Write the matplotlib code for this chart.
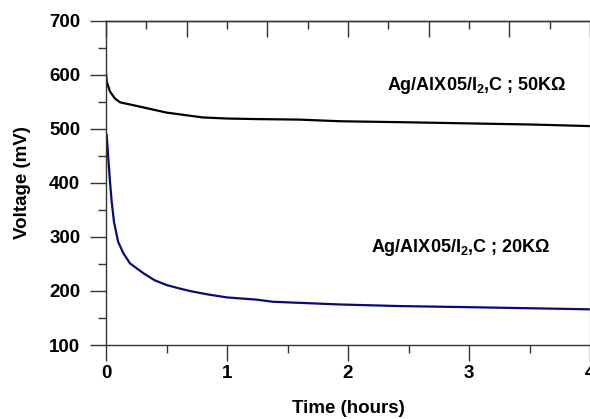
import matplotlib
matplotlib.use("Agg")
import matplotlib.pyplot as plt
from matplotlib.ticker import MultipleLocator

# Data
t_50k = [0.0, 0.006, 0.033, 0.074, 0.116, 0.3, 0.5, 0.8, 1.0, 1.24, 1.6, 1.93, 2.5, 3.0, 3.5, 4.0]
v_50k = [603, 587, 569, 556, 549, 540, 530, 521, 519, 518, 517, 514, 512, 510, 508, 505]

t_20k = [0.006, 0.019, 0.033, 0.047, 0.066, 0.10, 0.143, 0.198, 0.308, 0.4, 0.5, 0.6, 0.69,
         0.83, 1.0, 1.24, 1.38, 1.6, 1.93, 2.43, 3.0, 3.5, 4.0]
v_20k = [488, 445, 402, 365, 328, 291, 270, 251, 233, 220, 211, 205, 200,
         194, 188, 184, 180, 178, 175, 172, 170, 168, 166]

label_50k = r"Ag/AlX05/I$_\mathbf{2}$,C ; 50K$\Omega$"
label_20k = r"Ag/AlX05/I$_\mathbf{2}$,C ; 20K$\Omega$"

plt.rcParams['font.family'] = ['Liberation Sans', 'DejaVu Sans']
plt.rcParams['font.weight'] = 'bold'
plt.rcParams['mathtext.fontset'] = 'custom'
plt.rcParams['mathtext.rm'] = 'Liberation Sans:bold'
plt.rcParams['mathtext.bf'] = 'Liberation Sans:bold'
plt.rcParams['mathtext.it'] = 'Liberation Sans:bold'

fig = plt.figure(figsize=(5.9, 4.19), dpi=100)
ax = fig.add_axes([106/590, 1-345/419, 484/590, (345-20.7)/419])

ax.plot(t_50k, v_50k, color='black', lw=1.6)
ax.plot(t_20k, v_20k, color='#0a0a78', lw=1.6)

ax.set_xlim(0, 4)
ax.set_ylim(100, 700)

ax.xaxis.set_major_locator(MultipleLocator(1))
ax.xaxis.set_minor_locator(MultipleLocator(0.5))
ax.yaxis.set_major_locator(MultipleLocator(100))
ax.yaxis.set_minor_locator(MultipleLocator(50))

ax.tick_params(axis='both', which='major', direction='out', length=11.5, width=1,
               color='#333333', labelsize=13.5)
ax.tick_params(axis='both', which='minor', direction='out', length=5.8, width=1,
               color='#333333')
ax.tick_params(axis='x', which='major', pad=3)
ax.tick_params(axis='y', which='major', pad=7)
for lab in ax.get_xticklabels() + ax.get_yticklabels():
    lab.set_fontweight('bold')

for s in ['left', 'bottom', 'top']:
    ax.spines[s].set_color('#333333')
    ax.spines[s].set_linewidth(1)
ax.spines['right'].set_color('#bbbbbb')
ax.spines['right'].set_linewidth(1)

# top axis ticks pointing inward
top = ax.secondary_xaxis('top')
top.xaxis.set_major_locator(MultipleLocator(2/3))
top.xaxis.set_minor_locator(MultipleLocator(1/3))
top.tick_params(axis='x', which='major', direction='in', length=11.5, width=1,
                color='#333333', labeltop=False)
top.tick_params(axis='x', which='minor', direction='in', length=5.8, width=1,
                color='#333333')
top.spines['top'].set_color('#333333')
top.spines['top'].set_linewidth(1)

ax.set_xlabel('Time (hours)', fontsize=13.5, fontweight='bold', labelpad=13)
ax.set_ylabel('Voltage (mV)', fontsize=13.5, fontweight='bold', labelpad=13)

ax.text(3.06, 581, label_50k, fontsize=13, fontweight='bold', ha='center', va='center')
ax.text(2.93, 281, label_20k, fontsize=13, fontweight='bold', ha='center', va='center')

fig.savefig('out.png', dpi=100)
